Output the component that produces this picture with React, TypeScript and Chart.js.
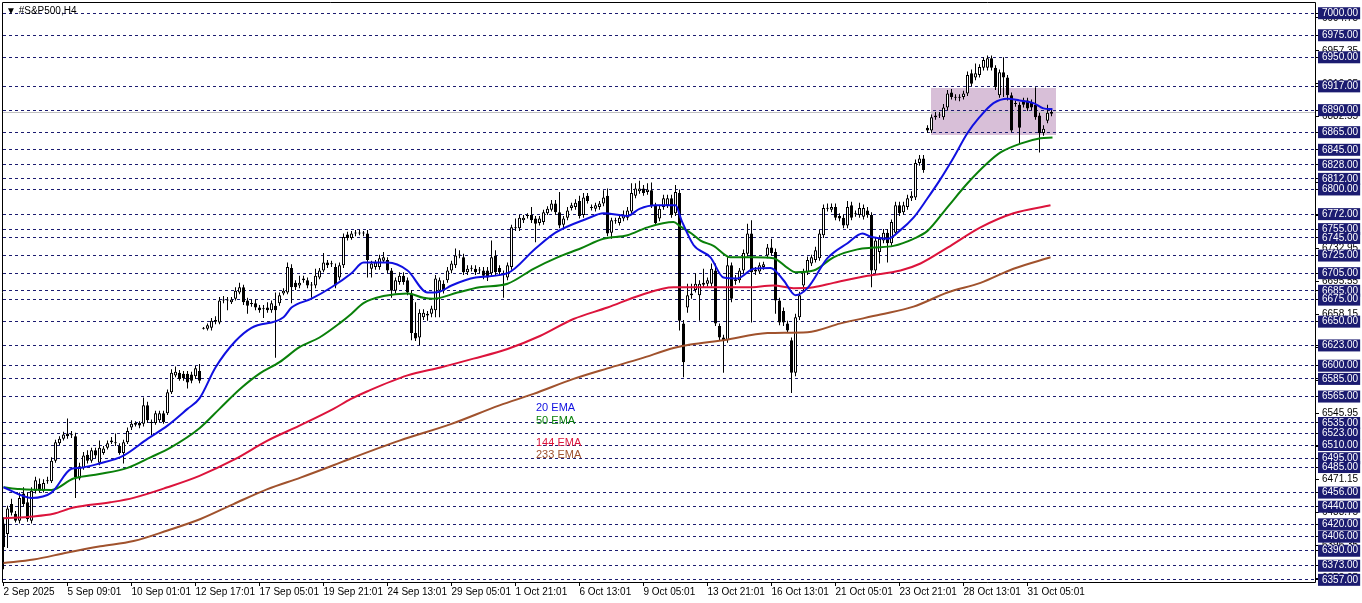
import React, { useEffect, useRef } from 'react';
import { Chart, registerables } from 'chart.js';

Chart.register(...registerables);

// ---------- data ----------
const CHART_TITLE = '▼ #S&P500,H4';

const X_TICK_LABELS = [
  '2 Sep 2025', '5 Sep 09:01', '10 Sep 01:01', '12 Sep 17:01', '17 Sep 05:01', '19 Sep 21:01',
  '24 Sep 13:01', '29 Sep 05:01', '1 Oct 21:01', '6 Oct 13:01', '9 Oct 05:01', '13 Oct 21:01',
  '16 Oct 13:01', '21 Oct 05:01', '23 Oct 21:01', '28 Oct 13:01', '31 Oct 05:01',
];
const BARS_PER_LABEL = 16;

// horizontal levels (navy dashed lines with boxed labels)
const LEVELS = [
  7000, 6975, 6950, 6917, 6890, 6865, 6845, 6828, 6812, 6800, 6772, 6755, 6745, 6725, 6705, 6685,
  6675, 6650, 6623, 6600, 6585, 6565, 6535, 6523, 6510, 6495, 6485, 6456, 6440, 6420, 6406, 6390,
  6373, 6357,
];

// regular price-scale ticks (plain black labels)
const SCALE_TICKS = [
  6358.95, 6396.35, 6433.75, 6471.15, 6508.55, 6545.95, 6583.35, 6620.75, 6658.15, 6695.55,
  6732.95, 6770.35, 6807.75, 6845.15, 6882.55, 6919.95, 6957.35, 6994.75,
];

// H4 candles: [open, high, low, close]
const CANDLES: [number, number, number, number][] = [
  [6421, 6428, 6369, 6394], [6409, 6441, 6393, 6438], [6443, 6449, 6430, 6433], [6432, 6435, 6422, 6424],
  [6424, 6456, 6421, 6450], [6455, 6462, 6440, 6443], [6445, 6456, 6423, 6426], [6424, 6462, 6421, 6458],
  [6458, 6474, 6455, 6470], [6466, 6472, 6456, 6458], [6458, 6471, 6456, 6467], [6469, 6474, 6466, 6470],
  [6469, 6496, 6467, 6492], [6492, 6516, 6490, 6513], [6512, 6520, 6510, 6517], [6517, 6525, 6515, 6522],
  [6523, 6540, 6517, 6520], [6521, 6526, 6518, 6522], [6520, 6524, 6450, 6473], [6472, 6490, 6470, 6486],
  [6484, 6502, 6482, 6498], [6499, 6504, 6489, 6492], [6492, 6507, 6490, 6504], [6504, 6507, 6495, 6498],
  [6490, 6515, 6487, 6507], [6501, 6509, 6499, 6506], [6507, 6515, 6505, 6512], [6513, 6519, 6511, 6515],
  [6513, 6523, 6509, 6512], [6509, 6512, 6499, 6501], [6501, 6516, 6489, 6513], [6513, 6530, 6511, 6526],
  [6530, 6538, 6527, 6534], [6533, 6537, 6531, 6535], [6535, 6537, 6529, 6532], [6534, 6564, 6531, 6555],
  [6555, 6559, 6535, 6538], [6536, 6539, 6521, 6535], [6535, 6549, 6533, 6546], [6538, 6549, 6536, 6546],
  [6546, 6549, 6534, 6536], [6546, 6573, 6544, 6570], [6570, 6596, 6568, 6592], [6589, 6599, 6587, 6593],
  [6592, 6595, 6583, 6585], [6591, 6594, 6583, 6586], [6591, 6594, 6574, 6581], [6590, 6593, 6580, 6583],
  [6588, 6600, 6585, 6597], [6594, 6602, 6580, 6583], [6642, 6644, 6641, 6643], [6642, 6648, 6640, 6646],
  [6643, 6654, 6640, 6651], [6652, 6656, 6647, 6650], [6649, 6678, 6647, 6674], [6674, 6679, 6671, 6675],
  [6675, 6678, 6663, 6674], [6672, 6678, 6670, 6675], [6676, 6689, 6674, 6685], [6683, 6694, 6681, 6689],
  [6689, 6692, 6669, 6672], [6674, 6677, 6659, 6668], [6671, 6675, 6667, 6670], [6671, 6675, 6663, 6666],
  [6666, 6669, 6660, 6663], [6664, 6669, 6654, 6665], [6666, 6672, 6660, 6663], [6663, 6674, 6660, 6671],
  [6668, 6683, 6609, 6663], [6671, 6683, 6668, 6680], [6682, 6688, 6680, 6685], [6683, 6717, 6681, 6712],
  [6711, 6715, 6671, 6689], [6694, 6697, 6686, 6689], [6691, 6702, 6688, 6694], [6697, 6702, 6694, 6699],
  [6697, 6700, 6688, 6691], [6691, 6695, 6677, 6692], [6691, 6710, 6688, 6702], [6700, 6711, 6698, 6708],
  [6708, 6728, 6706, 6717], [6717, 6720, 6711, 6714], [6715, 6719, 6712, 6716], [6712, 6716, 6688, 6691],
  [6700, 6717, 6697, 6714], [6714, 6750, 6711, 6746], [6749, 6752, 6742, 6745], [6745, 6753, 6743, 6750],
  [6750, 6754, 6747, 6751], [6750, 6754, 6748, 6751], [6751, 6753, 6747, 6750], [6750, 6754, 6700, 6720],
  [6710, 6719, 6700, 6716], [6712, 6720, 6709, 6717], [6712, 6726, 6709, 6722], [6719, 6729, 6717, 6723],
  [6720, 6723, 6705, 6708], [6708, 6711, 6677, 6685], [6685, 6700, 6682, 6697], [6695, 6706, 6692, 6702],
  [6702, 6706, 6692, 6695], [6697, 6700, 6680, 6683], [6682, 6686, 6629, 6637], [6637, 6672, 6628, 6631],
  [6632, 6664, 6623, 6660], [6655, 6664, 6652, 6660], [6657, 6662, 6651, 6659], [6659, 6668, 6655, 6665],
  [6663, 6703, 6655, 6699], [6685, 6700, 6655, 6697], [6693, 6697, 6682, 6685], [6697, 6712, 6694, 6708],
  [6708, 6719, 6705, 6716], [6714, 6733, 6711, 6725], [6725, 6731, 6722, 6726], [6723, 6727, 6703, 6706],
  [6706, 6714, 6703, 6710], [6710, 6714, 6707, 6711], [6710, 6714, 6703, 6706], [6708, 6712, 6705, 6709],
  [6708, 6712, 6698, 6702], [6708, 6712, 6696, 6700], [6705, 6742, 6702, 6723], [6725, 6731, 6703, 6706],
  [6711, 6714, 6702, 6706], [6705, 6708, 6677, 6704], [6700, 6717, 6697, 6714], [6712, 6760, 6709, 6757],
  [6756, 6767, 6753, 6757], [6756, 6771, 6753, 6768], [6765, 6771, 6762, 6768], [6770, 6773, 6767, 6771],
  [6771, 6780, 6762, 6765], [6767, 6770, 6740, 6761], [6762, 6770, 6759, 6767], [6763, 6777, 6760, 6774],
  [6773, 6781, 6771, 6778], [6777, 6788, 6775, 6784], [6784, 6788, 6771, 6774], [6774, 6797, 6756, 6759],
  [6760, 6770, 6756, 6767], [6768, 6780, 6765, 6776], [6779, 6785, 6776, 6782], [6780, 6789, 6777, 6785],
  [6787, 6793, 6767, 6770], [6771, 6796, 6768, 6791], [6793, 6796, 6784, 6787], [6780, 6783, 6776, 6779],
  [6778, 6785, 6775, 6782], [6780, 6787, 6777, 6784], [6784, 6799, 6781, 6791], [6793, 6801, 6747, 6750],
  [6751, 6768, 6744, 6765], [6764, 6768, 6761, 6765], [6762, 6772, 6759, 6768], [6767, 6776, 6764, 6771],
  [6768, 6780, 6765, 6776], [6775, 6807, 6772, 6796], [6793, 6807, 6790, 6801], [6798, 6810, 6795, 6801],
  [6801, 6805, 6793, 6796], [6797, 6807, 6794, 6800], [6799, 6808, 6779, 6782], [6782, 6785, 6759, 6762],
  [6767, 6782, 6764, 6778], [6780, 6794, 6777, 6790], [6782, 6794, 6779, 6790], [6790, 6794, 6768, 6771],
  [6773, 6805, 6770, 6797], [6796, 6800, 6640, 6651], [6648, 6652, 6587, 6604], [6666, 6693, 6660, 6680],
  [6680, 6693, 6676, 6682], [6686, 6705, 6683, 6693], [6680, 6697, 6651, 6693], [6692, 6710, 6689, 6694],
  [6693, 6700, 6690, 6697], [6693, 6716, 6690, 6710], [6708, 6716, 6645, 6648], [6645, 6648, 6628, 6632],
  [6632, 6635, 6592, 6629], [6629, 6723, 6626, 6714], [6714, 6717, 6672, 6676], [6698, 6703, 6692, 6696],
  [6697, 6711, 6694, 6708], [6708, 6732, 6705, 6728], [6727, 6761, 6724, 6750], [6750, 6765, 6649, 6706],
  [6707, 6712, 6703, 6709], [6707, 6717, 6704, 6714], [6712, 6718, 6709, 6715], [6725, 6738, 6722, 6734],
  [6734, 6744, 6725, 6728], [6729, 6733, 6659, 6674], [6674, 6677, 6646, 6649], [6662, 6666, 6645, 6649],
  [6648, 6651, 6637, 6640], [6629, 6632, 6569, 6592], [6592, 6659, 6588, 6655], [6655, 6684, 6652, 6680],
  [6691, 6710, 6685, 6706], [6706, 6724, 6703, 6720], [6716, 6726, 6713, 6723], [6720, 6735, 6717, 6731],
  [6722, 6754, 6719, 6750], [6748, 6783, 6745, 6779], [6778, 6784, 6775, 6779], [6777, 6784, 6774, 6780],
  [6780, 6784, 6765, 6768], [6770, 6773, 6764, 6767], [6768, 6772, 6756, 6759], [6759, 6787, 6756, 6780],
  [6782, 6786, 6765, 6768], [6772, 6776, 6769, 6773], [6771, 6785, 6768, 6779], [6769, 6783, 6766, 6779],
  [6776, 6780, 6768, 6771], [6771, 6774, 6689, 6708], [6708, 6746, 6705, 6742], [6729, 6748, 6716, 6744],
  [6742, 6755, 6739, 6751], [6751, 6755, 6717, 6739], [6739, 6766, 6736, 6763], [6751, 6786, 6748, 6782],
  [6782, 6786, 6770, 6773], [6774, 6786, 6771, 6782], [6780, 6794, 6777, 6790], [6790, 6798, 6787, 6793],
  [6791, 6834, 6788, 6830], [6830, 6839, 6827, 6835], [6835, 6839, 6819, 6822], [6870, 6873, 6864, 6867],
  [6867, 6885, 6864, 6882], [6882, 6888, 6879, 6884], [6884, 6888, 6881, 6885], [6882, 6897, 6879, 6893],
  [6893, 6913, 6890, 6909], [6910, 6914, 6902, 6905], [6905, 6908, 6901, 6904], [6904, 6908, 6900, 6905],
  [6905, 6912, 6902, 6909], [6909, 6934, 6906, 6930], [6932, 6936, 6917, 6920], [6927, 6943, 6924, 6932],
  [6930, 6942, 6927, 6939], [6938, 6950, 6935, 6947], [6938, 6952, 6935, 6949], [6949, 6952, 6935, 6938],
  [6938, 6941, 6913, 6916], [6907, 6936, 6904, 6933], [6933, 6950, 6905, 6927], [6927, 6930, 6901, 6907],
  [6907, 6910, 6865, 6867], [6898, 6901, 6894, 6897], [6896, 6899, 6852, 6870], [6901, 6904, 6893, 6896],
  [6901, 6904, 6889, 6892], [6899, 6902, 6890, 6893], [6896, 6916, 6879, 6882], [6884, 6887, 6842, 6864],
  [6864, 6873, 6861, 6869], [6878, 6896, 6875, 6887], [6886, 6892, 6883, 6888],
];

// moving averages: [bar index, value]
const EMA20: [number, number][] = [
  [0, 6462], [7, 6450], [12, 6456], [17, 6483], [19, 6484], [24, 6489], [30, 6498], [36, 6517],
  [41, 6532], [46, 6551], [49, 6563], [53, 6598], [58, 6628], [62, 6643], [70, 6655], [72, 6666],
  [77, 6676], [82, 6689], [87, 6705], [90, 6717], [96, 6717], [101, 6708], [106, 6683], [109, 6684],
  [112, 6691], [118, 6700], [126, 6705], [133, 6733], [138, 6751], [146, 6767], [150, 6773],
  [156, 6770], [159, 6778], [163, 6782], [168, 6782], [169.5, 6765], [172.5, 6737], [176.75, 6723],
  [180, 6700], [183.5, 6699], [187.5, 6710], [191.75, 6711], [195, 6697], [198, 6680], [201, 6688],
  [206, 6722], [211, 6739], [214.75, 6750], [217, 6746], [221, 6744], [224, 6753], [227.5, 6768],
  [231, 6790], [234, 6810], [237.5, 6836], [241, 6864], [244, 6882], [247.5, 6898], [251, 6903],
  [254, 6901], [257.5, 6898], [260, 6892], [262.25, 6891],
];
const EMA50: [number, number][] = [
  [0, 6462], [4, 6460], [12, 6459], [17.5, 6472], [24, 6477], [31, 6484], [36.75, 6496],
  [41.75, 6507], [49, 6529], [54, 6551], [59, 6573], [64, 6591], [69, 6604], [74, 6621], [79, 6632],
  [84, 6648], [87, 6659], [90, 6671], [95, 6679], [101, 6682], [105, 6677], [107.5, 6676],
  [113.5, 6683], [119, 6689], [126, 6693], [132.5, 6710], [138.5, 6723], [144.25, 6733], [150, 6744],
  [156, 6748], [161, 6757], [167.5, 6763], [169.25, 6758], [172, 6750], [174.25, 6742], [177.5, 6736],
  [181.75, 6723], [187.5, 6723], [192.5, 6722], [196, 6711], [198, 6706], [202.5, 6708],
  [207.5, 6723], [213.5, 6732], [217.5, 6734], [222.5, 6736], [227.5, 6744], [231, 6753], [236, 6780],
  [241, 6807], [246, 6830], [249.25, 6842], [254.25, 6852], [259.25, 6858], [262.25, 6859],
];
const EMA144: [number, number][] = [
  [0, 6427], [7.5, 6429], [12.5, 6432], [17.5, 6439], [26.75, 6445], [32.5, 6450], [41, 6462],
  [49, 6475], [57.5, 6493], [66, 6515], [74, 6532], [82.5, 6551], [86.75, 6562], [91, 6571],
  [101, 6589], [109.25, 6598], [117.5, 6608], [126, 6619], [134.25, 6634], [142.5, 6653], [151, 6666],
  [159.25, 6680], [167.5, 6689], [171.75, 6689], [177.5, 6689], [186, 6689], [192.5, 6691],
  [197.5, 6688], [202.5, 6689], [207.5, 6694], [216, 6702], [224.25, 6708], [229.25, 6716],
  [236, 6734], [244.25, 6757], [252.5, 6773], [261.75, 6782],
];
const EMA233: [number, number][] = [
  [0, 6376], [7.5, 6380], [16, 6388], [24.25, 6395], [32.5, 6401], [41, 6413], [49.25, 6426],
  [57.5, 6443], [66, 6460], [74.25, 6473], [82.5, 6487], [87, 6495], [99, 6515], [112, 6534],
  [124, 6555], [132.5, 6568], [142.5, 6585], [151, 6597], [159.25, 6608], [167.5, 6620],
  [171.75, 6624], [180, 6629], [191, 6637], [201, 6638], [209.25, 6648], [219.25, 6658],
  [227.5, 6667], [236, 6683], [244.25, 6694], [252.5, 6710], [261.75, 6723],
];

const EMA_NAMES = ['20 EMA', '50 EMA', '144 EMA', '233 EMA'];
const EMA_COLORS = ['#1010E0', '#0A800A', '#DC143C', '#A0522D'];

// highlighted zone: bar range and price range
const ZONE_BARS = [231.9, 263];
const ZONE_PRICES = [6915, 6862];
const BID_PRICE = 6887.5;

// ---------- layout / style ----------
const W = 1362;
const H = 603;
const Y_MIN = 6353.4;
const Y_MAX = 7011.6;
const X_MIN = -0.125;
const X_MAX = 328.125;
const NAVY = '#1B1B70';
const FONT = '"Liberation Sans", "DejaVu Sans", Arial, sans-serif';
const LEVEL_SET = new Set(LEVELS);
const isLevel = (c: any) => !!c.tick && LEVEL_SET.has(c.tick.value);

const zeroPadding = (s: any) => {
  s.paddingTop = 0;
  s.paddingBottom = 0;
  s.paddingLeft = 0;
  s.paddingRight = 0;
};

const overlayPlugin = {
  id: 'mtOverlay',
  beforeDraw(chart: any) {
    const { ctx, scales } = chart;
    const x = scales.x;
    const y = scales.y;
    ctx.save();
    ctx.fillStyle = '#ffffff';
    ctx.fillRect(0, 0, chart.width, chart.height);
    const x1 = Math.round(x.getPixelForValue(ZONE_BARS[0]));
    const x2 = Math.round(x.getPixelForValue(ZONE_BARS[1]));
    const y1 = Math.round(y.getPixelForValue(ZONE_PRICES[0]));
    const y2 = Math.round(y.getPixelForValue(ZONE_PRICES[1]));
    ctx.fillStyle = '#D8BFD8';
    ctx.fillRect(x1, y1, x2 - x1, y2 - y1);
    ctx.restore();
  },
  beforeDatasetsDraw(chart: any) {
    const { ctx, chartArea, scales } = chart;
    const yb = Math.round(scales.y.getPixelForValue(BID_PRICE)) + 0.5;
    ctx.save();
    ctx.strokeStyle = '#C0C0C0';
    ctx.lineWidth = 1;
    ctx.beginPath();
    ctx.moveTo(chartArea.left, yb);
    ctx.lineTo(chartArea.right, yb);
    ctx.stroke();
    ctx.restore();
  },
  afterDatasetsDraw(chart: any) {
    const { ctx } = chart;
    ctx.save();
    ctx.font = `11px ${FONT}`;
    ctx.textBaseline = 'middle';
    ctx.textAlign = 'left';
    const ys = [408, 421, 443, 455];
    EMA_NAMES.forEach((name, k) => {
      ctx.fillStyle = EMA_COLORS[k];
      ctx.fillText(name, 536, ys[k]);
    });
    ctx.restore();
  },
  afterDraw(chart: any) {
    const { ctx, chartArea } = chart;
    const { left, top, right, bottom } = chartArea;
    ctx.save();
    ctx.strokeStyle = '#000';
    ctx.lineWidth = 1;
    ctx.beginPath();
    ctx.moveTo(left - 0.5, top - 0.5);
    ctx.lineTo(right - 0.5, top - 0.5);
    ctx.lineTo(right - 0.5, bottom - 0.5);
    ctx.lineTo(left - 0.5, bottom - 0.5);
    ctx.closePath();
    ctx.stroke();
    ctx.fillStyle = '#000';
    ctx.font = `10px ${FONT}`;
    ctx.textBaseline = 'middle';
    ctx.fillText(CHART_TITLE, 6, 11);
    ctx.restore();
  },
};

export default function App() {
  const canvasRef = useRef<HTMLCanvasElement>(null);

  useEffect(() => {
    document.body.style.margin = '0';
    const canvas = canvasRef.current;
    if (!canvas) return;

    const emaSets = [EMA20, EMA50, EMA144, EMA233].map((arr, k) => ({
      type: 'line' as const,
      label: EMA_NAMES[k],
      data: arr.map(([bx, v]) => ({ x: bx, y: v })),
      borderColor: EMA_COLORS[k],
      borderWidth: 2,
      pointRadius: 0,
      cubicInterpolationMode: 'monotone' as const,
      fill: false,
      order: 0,
    }));

    const chart = new Chart(canvas, {
      type: 'bar',
      data: {
        datasets: [
          ...emaSets,
          {
            type: 'bar',
            label: 'body',
            data: CANDLES.map((c, i) => ({ x: i, y: [c[0], c[3]] })) as any,
            backgroundColor: (c: any) => {
              const d = CANDLES[c.dataIndex];
              return d && d[3] >= d[0] ? '#ffffff' : '#000000';
            },
            borderColor: '#000000',
            borderWidth: 1,
            borderSkipped: false,
            barThickness: 3,
            minBarLength: 1,
            grouped: false,
            inflateAmount: 0,
            order: 1,
          } as any,
          {
            type: 'bar',
            label: 'wick',
            data: CANDLES.map((c, i) => ({ x: i, y: [c[2], c[1]] })) as any,
            backgroundColor: '#000000',
            borderWidth: 0,
            barThickness: 1,
            grouped: false,
            inflateAmount: 0,
            order: 2,
          } as any,
        ],
      },
      options: {
        responsive: false,
        maintainAspectRatio: false,
        animation: false,
        devicePixelRatio: 1,
        events: [],
        layout: { padding: { left: 3, top: 3, right: 0, bottom: 0 } },
        plugins: {
          legend: { display: false },
          tooltip: { enabled: false },
          title: { display: false },
        },
        scales: {
          x: {
            type: 'linear',
            min: X_MIN,
            max: X_MAX,
            offset: false,
            bounds: 'data',
            afterFit: (s: any) => {
              s.height = 20;
              zeroPadding(s);
            },
            afterBuildTicks: (s: any) => {
              s.ticks = X_TICK_LABELS.map((_, k) => ({ value: k * BARS_PER_LABEL }));
            },
            grid: {
              offset: false,
              drawOnChartArea: false,
              drawTicks: true,
              tickLength: 3,
              color: '#000',
              tickColor: '#000',
            },
            border: { display: false },
            ticks: {
              autoSkip: false,
              maxRotation: 0,
              minRotation: 0,
              align: 'start',
              padding: 0,
              color: '#000',
              font: { family: FONT, size: 10 },
              callback: (v: any) => X_TICK_LABELS[Math.round(Number(v) / BARS_PER_LABEL)] ?? '',
            },
          } as any,
          y: {
            type: 'linear',
            position: 'right',
            min: Y_MIN,
            max: Y_MAX,
            bounds: 'data',
            beginAtZero: false,
            afterFit: (s: any) => {
              s.width = 46;
              zeroPadding(s);
            },
            afterBuildTicks: (s: any) => {
              s.ticks = [...SCALE_TICKS, ...LEVELS].map((v) => ({ value: v }));
            },
            grid: {
              drawOnChartArea: true,
              drawTicks: true,
              tickLength: 3,
              lineWidth: 1,
              color: (c: any) => (isLevel(c) ? NAVY : 'rgba(0,0,0,0)'),
              tickColor: '#000',
              borderDash: [3, 3],
            },
            border: { display: false, dash: [3, 3] },
            ticks: {
              autoSkip: false,
              padding: 3,
              crossAlign: 'near',
              font: { family: FONT, size: 10, lineHeight: 1.1 },
              color: (c: any) => (isLevel(c) ? '#ffffff' : '#000000'),
              showLabelBackdrop: (c: any) => isLevel(c),
              backdropColor: NAVY,
              backdropPadding: { top: 0.5, bottom: 0.5, left: 4, right: 2 },
              callback: (v: any) => Number(v).toFixed(2),
            },
          } as any,
        },
      },
      plugins: [overlayPlugin],
    } as any);

    return () => chart.destroy();
  }, []);

  return (
    <div style={{ position: 'absolute', left: 0, top: 0, width: W, height: H, background: '#fff' }}>
      <canvas ref={canvasRef} width={W} height={H} style={{ display: 'block', width: W, height: H }} />
    </div>
  );
}
